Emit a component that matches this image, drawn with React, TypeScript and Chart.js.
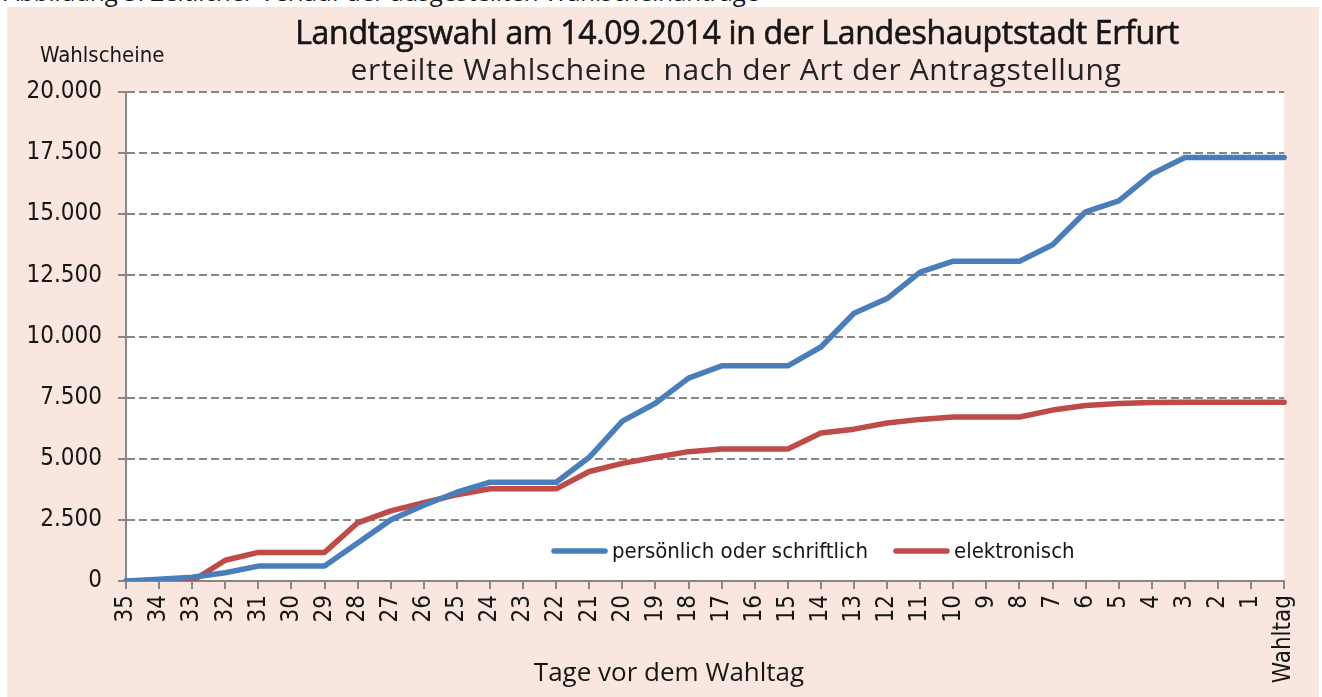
import React, { useEffect, useRef } from "react";
import { Chart, registerables } from "chart.js";
Chart.register(...registerables);

// ---- data ----
const categories = [
  "35", "34", "33", "32", "31", "30", "29", "28", "27", "26", "25", "24",
  "23", "22", "21", "20", "19", "18", "17", "16", "15", "14", "13", "12",
  "11", "10", "9", "8", "7", "6", "5", "4", "3", "2", "1", "Wahltag",
];
const persoenlichOderSchriftlich = [
  0, 70, 150, 340, 610, 610, 610, 1550, 2500, 3100, 3630, 4040,
  4040, 4040, 5060, 6540, 7270, 8300, 8800, 8800, 8800, 9570, 10950, 11550,
  12630, 13080, 13080, 13080, 13750, 15100, 15550, 16650, 17320, 17320, 17320, 17320,
];
const elektronisch = [
  0, 0, 0, 850, 1170, 1170, 1170, 2380, 2870, 3200, 3530, 3770,
  3770, 3770, 4480, 4810, 5060, 5290, 5400, 5400, 5400, 6050, 6210, 6460,
  6610, 6710, 6710, 6710, 6990, 7180, 7260, 7300, 7310, 7310, 7310, 7310,
];
const seriesLabels = ["persönlich oder schriftlich", "elektronisch"];
const yMin = 0;
const yMax = 20000;
const yStep = 2500;

// ---- style ----
const BG = "#f9e6de";
const GRID = "#878787";
const BLUE = "#4a7ebb";
const RED = "#be4b48";
const TEXT = "#161616";
const NARROW = '"Liberation Sans Narrow", "Arial Narrow", "DejaVu Sans Condensed", sans-serif';
const HUMAN = '"Open Sans", "Noto Sans", sans-serif';

const fmt = (v: number) => String(v).replace(/\B(?=(\d{3})+(?!\d))/g, ".");

const plotBackground = {
  id: "plotBackground",
  beforeDraw(chart: any) {
    const { ctx, chartArea } = chart;
    ctx.save();
    ctx.fillStyle = "#ffffff";
    ctx.fillRect(chartArea.left, chartArea.top, chartArea.right - chartArea.left, chartArea.bottom - chartArea.top);
    ctx.restore();
  },
};

const innerLegend = {
  id: "innerLegend",
  afterDatasetsDraw(chart: any) {
    const { ctx, chartArea } = chart;
    const y = chartArea.bottom - 30;
    let x = 545;
    ctx.save();
    ctx.font = `22px ${NARROW}`;
    ctx.textBaseline = "middle";
    ctx.textAlign = "left";
    chart.data.datasets.forEach((ds: any) => {
      ctx.strokeStyle = ds.borderColor;
      ctx.lineWidth = 5.5;
      ctx.lineCap = "round";
      ctx.beginPath();
      ctx.moveTo(x + 2, y);
      ctx.lineTo(x + 53, y);
      ctx.stroke();
      x += 60;
      ctx.fillStyle = TEXT;
      ctx.fillText(ds.label, x, y + 1);
      x += ctx.measureText(ds.label).width + 26;
    });
    ctx.restore();
  },
};

export default function App() {
  const ref = useRef<HTMLCanvasElement>(null);

  useEffect(() => {
    const chart = new Chart(ref.current!, {
      type: "line",
      data: {
        labels: categories,
        datasets: [
          {
            label: seriesLabels[0],
            data: persoenlichOderSchriftlich,
            borderColor: BLUE,
            backgroundColor: BLUE,
            borderWidth: 5.5,
            pointRadius: 0,
            tension: 0,
            borderJoinStyle: "round",
            borderCapStyle: "round",
          },
          {
            label: seriesLabels[1],
            data: elektronisch,
            borderColor: RED,
            backgroundColor: RED,
            borderWidth: 5.5,
            pointRadius: 0,
            tension: 0,
            borderJoinStyle: "round",
            borderCapStyle: "round",
          },
        ],
      },
      options: {
        responsive: false,
        animation: false,
        layout: { padding: { left: 0, top: 85, right: 28, bottom: 0 } },
        plugins: {
          legend: { display: false },
          title: { display: false },
          tooltip: { enabled: false },
        },
        scales: {
          x: {
            type: "category",
            offset: false,
            afterFit: (s: any) => { s.height = 116; },
            border: { display: true, color: GRID, width: 2 },
            grid: {
              drawOnChartArea: false,
              drawTicks: true,
              tickLength: 8,
              color: GRID,
              lineWidth: 2,
            },
            ticks: {
              autoSkip: false,
              minRotation: 90,
              maxRotation: 90,
              padding: 6,
              color: TEXT,
              font: { family: NARROW, size: 24 },
            },
          },
          y: {
            min: yMin,
            max: yMax,
            afterFit: (s: any) => { s.width = 119; },
            border: { display: true, color: GRID, width: 2, dash: [8, 4] },
            grid: {
              color: GRID,
              lineWidth: 2,
              tickLength: 8,
              drawTicks: true,
              tickColor: GRID,
              tickBorderDash: [8, 4],
            },
            ticks: {
              stepSize: yStep,
              padding: 16,
              color: TEXT,
              font: { family: NARROW, size: 24 },
              callback: (v: any) => fmt(Number(v)),
            },
          },
        },
      },
      plugins: [plotBackground, innerLegend],
    } as any);
    return () => chart.destroy();
  }, []);

  const centered = (cx: number, cy: number, size: number, extra: any = {}) => ({
    position: "absolute" as const,
    left: cx,
    top: cy - size * 0.62,
    transform: "translateX(-50%)",
    whiteSpace: "pre" as const,
    fontSize: size,
    lineHeight: 1.2,
    color: TEXT,
    ...extra,
  });

  return (
    <div style={{ position: "absolute", left: 0, top: 0, width: 1322, height: 697, overflow: "hidden", background: "#fff" }}>
      <div style={{ position: "absolute", left: 4, top: -22, fontFamily: HUMAN, fontSize: 24, lineHeight: 1.2, whiteSpace: "nowrap", color: TEXT }}>
        Abbildung 3: Zeitlicher Verlauf der ausgestellten Wahlscheinanträge
      </div>
      <div style={{ position: "absolute", left: 7, top: 7, width: 1312, height: 690, background: BG }}>
        <canvas ref={ref} width={1312} height={690} style={{ position: "absolute", left: 0, top: 0, width: 1312, height: 690 }} />
        <div style={centered(730, 26, 32, { fontFamily: HUMAN, fontWeight: 500, letterSpacing: -0.3, WebkitTextStroke: "0.6px #111" })}>
          Landtagswahl am 14.09.2014 in der Landeshauptstadt Erfurt
        </div>
        <div style={centered(729, 63, 30, { fontFamily: HUMAN, fontWeight: 400, color: "#222", letterSpacing: 0.6 })}>
          {"erteilte Wahlscheine  nach der Art der Antragstellung"}
        </div>
        <div style={{ position: "absolute", left: 33, top: 49 - 22 * 0.62, fontFamily: NARROW, fontSize: 22, lineHeight: 1.2, whiteSpace: "nowrap", color: TEXT }}>
          Wahlscheine
        </div>
        <div style={centered(662, 665, 26, { fontFamily: HUMAN })}>
          Tage vor dem Wahltag
        </div>
      </div>
    </div>
  );
}
